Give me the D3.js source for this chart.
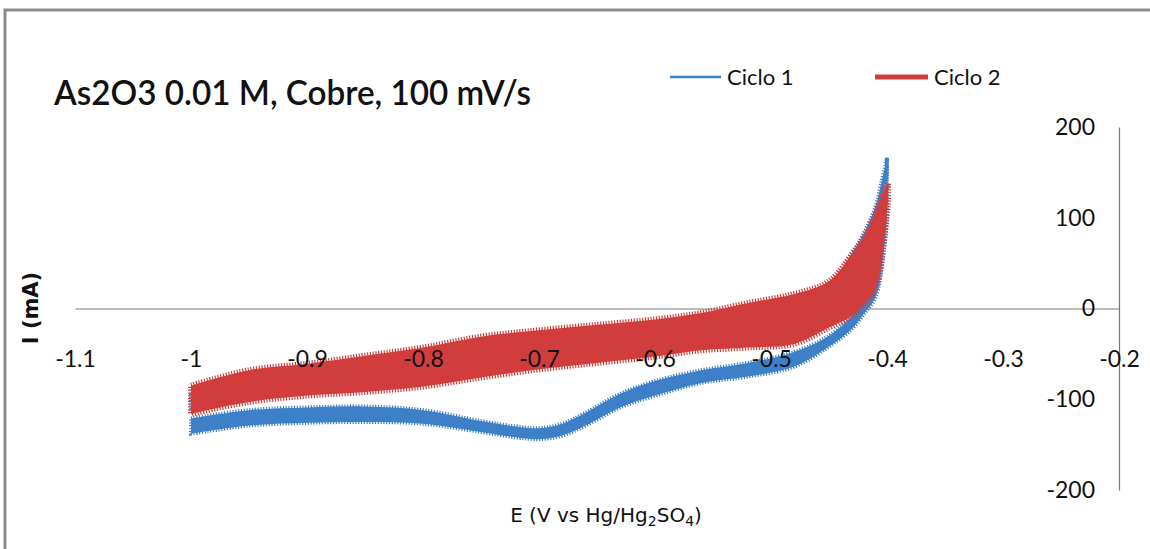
<!DOCTYPE html>
<html>
<head>
<meta charset="utf-8">
<script src="https://cdn.jsdelivr.net/npm/d3@7"></script>
<style>
  body { margin: 0; background: #fff; }
  svg { display: block; }
  .tick text { font-family: Lato, "Open Sans", sans-serif; font-size: 23px; fill: #111; }
</style>
</head>
<body>
<svg id="chart"></svg>
<script>
// axis ticks
const xTicks = [-1.1, -1, -0.9, -0.8, -0.7, -0.6, -0.5, -0.4, -0.3, -0.2];
const yTicks = [-200, -100, 0, 100, 200];

// Ciclo 1, cathodic sweep (lower branch with the peak near -0.7 V): band edges in mA
const ciclo1CathE      = [-1.0, -0.95, -0.9, -0.85, -0.8, -0.75, -0.72, -0.7, -0.68, -0.66, -0.63, -0.6, -0.56, -0.52, -0.48, -0.45, -0.43, -0.42, -0.41, -0.403, -0.4];
const ciclo1CathTop    = [-121, -112, -109, -108, -112, -124, -130, -132, -127, -115, -94, -80, -68, -60, -48, -30, -8, 8, 30, 90, 166];
const ciclo1CathBottom = [-138, -129, -126, -125, -127, -136, -142, -144, -140, -129, -109, -96, -82, -75, -64, -42, -22, -6, 12, 60, 100];

// Ciclo 1, anodic return (mostly under Ciclo 2)
const ciclo1AnodE      = [-1.0, -0.9, -0.8, -0.7, -0.6, -0.5, -0.45, -0.43, -0.42, -0.41, -0.405, -0.4];
const ciclo1AnodTop    = [-95, -70, -55, -35, -22, 5, 28, 62, 83, 112, 138, 166];
const ciclo1AnodBottom = [-110, -88, -75, -55, -40, -20, 0, 30, 55, 85, 115, 150];

// Ciclo 2, whole noisy trace: upper and lower edge in mA
const ciclo2E      = [-1.0, -0.95, -0.9, -0.85, -0.8, -0.75, -0.7, -0.65, -0.6, -0.56, -0.52, -0.48, -0.45, -0.43, -0.42, -0.41, -0.403, -0.399];
const ciclo2Top    = [-85, -68, -61, -52, -43, -31, -24, -18, -12, -5, 6, 16, 30, 60, 78, 105, 128, 138];
const ciclo2Bottom = [-116, -103, -96, -92, -86, -76, -67, -60, -53, -46, -43, -39, -21, -8, 5, 22, 70, 120];

const seriesNames = ['Ciclo 1', 'Ciclo 2'];
const blue = '#3d80c8';
const red = '#d13c3c';

const W = 1150, H = 549;
const svg = d3.select('#chart').attr('width', W).attr('height', H);

// outer frame
svg.append('rect')
  .attr('x', 5).attr('y', 10)
  .attr('width', 1200).attr('height', 600)
  .attr('fill', '#fff')
  .attr('stroke', '#8c8c8c')
  .attr('stroke-width', 3);

const x = d3.scaleLinear().domain([-1.1, -0.2]).range([75, 1119]);
const y = d3.scaleLinear().domain([-200, 200]).range([490, 127]);

// axis lines go under the data, labels go over it
const xLine = svg.append('g')
  .attr('transform', `translate(0,${y(0)})`)
  .call(d3.axisBottom(x).tickValues([]).tickSizeOuter(0));
xLine.select('.domain').attr('stroke', '#7a7a7a').attr('stroke-width', 1.2);

const yLine = svg.append('g')
  .attr('transform', `translate(${x(-0.2)},0)`)
  .call(d3.axisLeft(y).tickValues([]).tickSizeOuter(0));
yLine.select('.domain').attr('stroke', '#7a7a7a').attr('stroke-width', 1.2);

// bands
function band(E, top, bottom) {
  return d3.area()
    .x((d, i) => x(E[i]))
    .y0((d, i) => y(bottom[i]))
    .y1((d, i) => y(top[i]))
    .curve(d3.curveCatmullRom.alpha(0.5))(E);
}

const marks = svg.append('g');

function drawBand(E, top, bottom, color, teeth) {
  marks.append('path')
    .attr('d', band(E, top, bottom))
    .attr('fill', color)
    .attr('stroke', color)
    .attr('stroke-width', teeth)
    .attr('stroke-dasharray', '1.2 1.6');
}

drawBand(ciclo1AnodE, ciclo1AnodTop, ciclo1AnodBottom, blue, 4);
drawBand(ciclo1CathE, ciclo1CathTop, ciclo1CathBottom, blue, 4);
drawBand(ciclo2E, ciclo2Top, ciclo2Bottom, red, 6);

// tick labels
const xAxisG = svg.append('g')
  .attr('transform', `translate(0,${y(0)})`)
  .call(d3.axisBottom(x)
    .tickValues(xTicks)
    .tickFormat(d => String(d))
    .tickSize(0)
    .tickPadding(42));
xAxisG.select('.domain').remove();

const yAxisG = svg.append('g')
  .attr('transform', `translate(${x(-0.2)},0)`)
  .call(d3.axisLeft(y)
    .tickValues(yTicks)
    .tickFormat(d => String(d))
    .tickSize(0)
    .tickPadding(24));
yAxisG.select('.domain').remove();

// title
svg.append('text')
  .attr('x', 54).attr('y', 105)
  .attr('font-family', 'Lato, sans-serif')
  .attr('font-size', 35)
  .attr('font-weight', 600)
  .attr('fill', '#111')
  .attr('textLength', 477)
  .attr('lengthAdjust', 'spacingAndGlyphs')
  .text('As2O3 0.01 M, Cobre, 100 mV/s');

// legend
const legend = svg.append('g');
const legendItems = [
  { name: seriesNames[0], color: blue, x1: 670, x2: 721, w: 2.5 },
  { name: seriesNames[1], color: red, x1: 875, x2: 928, w: 5 }
];
legendItems.forEach(it => {
  legend.append('line')
    .attr('x1', it.x1).attr('x2', it.x2)
    .attr('y1', 77).attr('y2', 77)
    .attr('stroke', it.color)
    .attr('stroke-width', it.w);
  legend.append('text')
    .attr('x', it.x2 + 6).attr('y', 85)
    .attr('font-family', 'Lato, sans-serif')
    .attr('font-size', 22)
    .attr('fill', '#111')
    .text(it.name);
});

// axis titles
svg.append('text')
  .attr('transform', 'translate(38,308) rotate(-90)')
  .attr('text-anchor', 'middle')
  .attr('font-family', '"DejaVu Sans", Verdana, sans-serif')
  .attr('font-weight', 'bold')
  .attr('font-size', 21)
  .attr('fill', '#111')
  .text('I (mA)');

const xt = svg.append('text')
  .attr('x', 606).attr('y', 522)
  .attr('text-anchor', 'middle')
  .attr('font-family', '"DejaVu Sans", Verdana, sans-serif')
  .attr('font-size', 20)
  .attr('fill', '#111');
xt.append('tspan').text('E (V vs Hg/Hg');
xt.append('tspan').attr('font-size', 14).attr('dy', 4).text('2');
xt.append('tspan').attr('dy', -4).text('SO');
xt.append('tspan').attr('font-size', 14).attr('dy', 4).text('4');
xt.append('tspan').attr('dy', -4).text(')');
</script>
</body>
</html>
